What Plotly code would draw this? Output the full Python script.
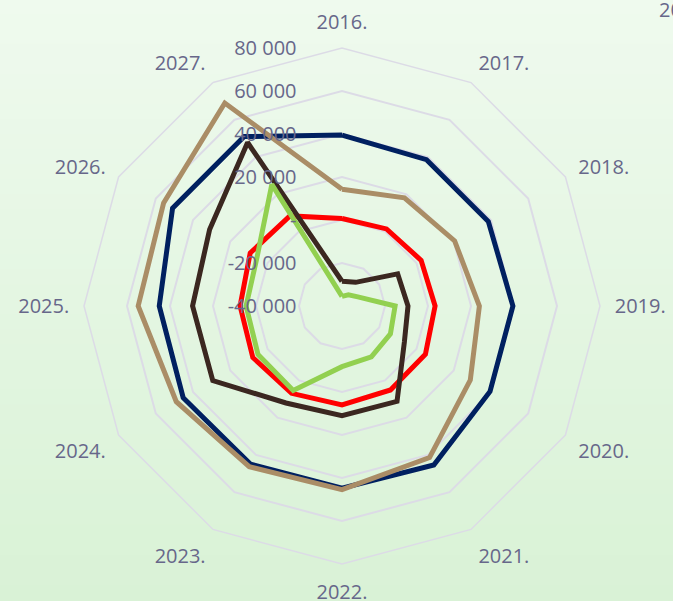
"""Radar chart 2016.-2027."""

import plotly.graph_objects as go

YEARS = ["2016.", "2017.", "2018.", "2019.", "2020.", "2021.",
         "2022.", "2023.", "2024.", "2025.", "2026.", "2027."]

SERIES_NAVY = [39500, 38600, 38600, 39500, 39500, 45400, 44700, 45000, 45300, 45000, 51000, 51000]
SERIES_TAN = [14300, 18100, 20500, 23900, 28900, 41400, 45400, 46300, 49000, 54800, 55800, 69000]
SERIES_RED = [700, 1400, 2500, 3300, 4800, 5100, 6000, 6900, 7900, 7400, 9300, 8400]
SERIES_BROWN = [-28500, -27300, -10100, -9300, -6500, 11200, 11000, 12100, 29400, 29500, 31100, 47800]
SERIES_GREEN = [-35500, -34000, -31500, -15300, -14000, -12700, -11800, 5400, 5100, 4600, 5600, 25300]

TICK_VALS = [-40000, -20000, 0, 20000, 40000, 60000, 80000]
TICK_TEXT = ["-40 000", "-20 000", "-", "20 000", "40 000", "60 000", "80 000"]

TEXT_COLOR = "#67678a"
GRID_COLOR = "#dcdbe6"

series = [
    ("Serija 1", SERIES_NAVY, "#002060"),
    ("Serija 2", SERIES_TAN, "#aa8d66"),
    ("Serija 3", SERIES_RED, "#ff0000"),
    ("Serija 4", SERIES_BROWN, "#3b2720"),
    ("Serija 5", SERIES_GREEN, "#92d050"),
]

fig = go.Figure()
for name, values, color in series:
    fig.add_trace(
        go.Scatterpolar(
            r=values + values[:1],
            theta=YEARS + YEARS[:1],
            mode="lines",
            name=name,
            line=dict(color=color, width=5),
            showlegend=False,
        )
    )

# soft vertical background gradient
top_rgb, bottom_rgb = (239, 250, 238), (217, 242, 214)
steps = 40
shapes = []
for i in range(steps):
    t = i / (steps - 1)
    c = tuple(round(a + (b - a) * t) for a, b in zip(top_rgb, bottom_rgb))
    shapes.append(
        dict(
            type="rect", xref="paper", yref="paper",
            x0=0, x1=1, y0=1 - (i + 1) / steps, y1=1 - i / steps + 0.002,
            fillcolor=f"rgb{c}", line=dict(width=0), layer="below",
        )
    )

fig.update_layout(
    width=673,
    height=601,
    margin=dict(l=0, r=0, t=0, b=0),
    paper_bgcolor="rgb(217,242,214)",
    font=dict(family="Open Sans", size=20, color=TEXT_COLOR),
    shapes=shapes,
    polar=dict(
        domain=dict(x=[84 / 673, 600 / 673], y=[37 / 601, 553 / 601]),
        bgcolor="rgba(0,0,0,0)",
        gridshape="linear",
        angularaxis=dict(
            direction="clockwise",
            rotation=90,
            showgrid=False,
            showline=True,
            linecolor=GRID_COLOR,
            linewidth=1.5,
            ticks="outside",
            ticklen=10,
            tickcolor="rgba(0,0,0,0)",
            tickfont=dict(size=20, color=TEXT_COLOR),
        ),
        radialaxis=dict(
            range=[-40000, 80000],
            angle=90,
            side="counterclockwise",
            tickvals=TICK_VALS,
            ticktext=TICK_TEXT,
            tickangle=90,
            showline=False,
            gridcolor=GRID_COLOR,
            gridwidth=1.5,
            ticks="outside",
            ticklen=38,
            tickcolor="rgba(0,0,0,0)",
            tickfont=dict(size=20, color=TEXT_COLOR),
            layer="above traces",
        ),
    ),
    annotations=[
        dict(
            text="20", xref="paper", yref="paper", x=657 / 673, y=1.0,
            xanchor="left", yanchor="top", yshift=6, showarrow=False,
            font=dict(size=20, color=TEXT_COLOR),
        )
    ],
)

fig.write_html(
    "out.html",
    config={"displayModeBar": False},
    post_script="document.body.style.margin='0';",
)
